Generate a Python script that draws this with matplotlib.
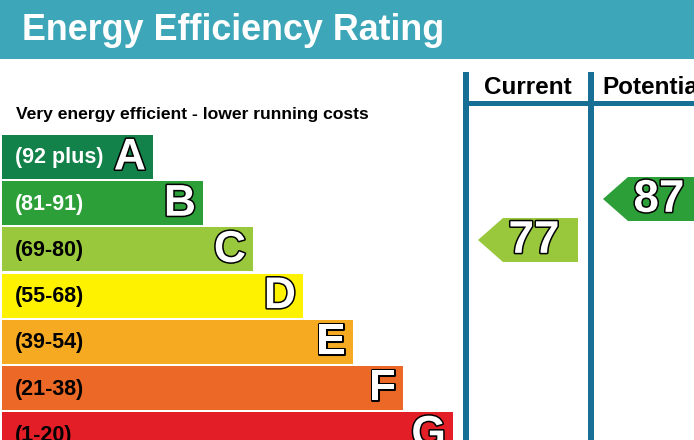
import matplotlib
matplotlib.use("Agg")
import matplotlib.pyplot as plt
from matplotlib.patches import Rectangle, Polygon
import matplotlib.patheffects as pe

# ---- data ----
title = "Energy Efficiency Rating"
subtitle = "Very energy efficient - lower running costs"
bands = ["A", "B", "C", "D", "E", "F", "G"]
ranges = ["(92 plus)", "(81-91)", "(69-80)", "(55-68)", "(39-54)", "(21-38)", "(1-20)"]
range_low = [92, 81, 69, 55, 39, 21, 1]
columns = ["Current", "Potential"]
current_score = 77
potential_score = 87

# ---- styles ----
band_colors = ["#12824A", "#2C9F38", "#99C83C", "#FFF200", "#F5AA22", "#EB6826", "#E31E26"]
label_colors = ["white", "white", "black", "black", "black", "black", "black"]
header_color = "#3DA6B8"
line_color = "#176F96"
FONT = ["Liberation Sans", "DejaVu Sans"]

W, H = 694, 440
fig = plt.figure(figsize=(W / 100, H / 100), dpi=100)
ax = fig.add_axes([0, 0, 1, 1])
ax.set_xlim(0, W)
ax.set_ylim(H, 0)
ax.axis("off")

# header
ax.add_patch(Rectangle((0, 0), W, 59, color=header_color, lw=0))
ax.text(22, 30, title, color="white", fontsize=25.8, fontweight="bold",
        family=FONT, va="center", ha="left")

ax.text(16, 115, subtitle, color="black", fontsize=12.6, fontweight="bold",
        family=FONT, va="center", ha="left")

outline = [pe.withStroke(linewidth=2.2, foreground="black")]

top0, pitch, bh = 135, 46.2, 44
for i, (b, r) in enumerate(zip(bands, ranges)):
    y = top0 + i * pitch
    right = 153 + 50 * i
    ax.add_patch(Rectangle((2, y), right - 2, bh, color=band_colors[i], lw=0))
    ax.text(15, y + bh / 2 + 1, r, color=label_colors[i], fontsize=15.5,
            fontweight="bold", family=FONT, va="center", ha="left")
    ax.text(right - 7, y + bh / 2 + 1, b, color="white", fontsize=32,
            fontweight="bold", family=FONT, va="center", ha="right",
            path_effects=outline)

# column lines
col_x = [466, 591]
for cx in col_x:
    ax.add_patch(Rectangle((cx - 3, 72), 6, H - 72, color=line_color, lw=0))
ax.add_patch(Rectangle((463, 101), W - 463, 5, color=line_color, lw=0))
ax.text(528, 87, columns[0], color="black", fontsize=17.5, fontweight="bold",
        family=FONT, va="center", ha="center")
ax.text(602, 87, columns[1], color="black", fontsize=17.5, fontweight="bold",
        family=FONT, va="center", ha="left")

# score axes (y in score units), overlay
axs = fig.add_axes([0, 0, 1, 1])
axs.set_xlim(0, W)
ppu = 4.1  # pixels per score point
axs.set_ylim(77 - (H - 240) / ppu, 77 + 240 / ppu)
axs.axis("off")
axs.patch.set_alpha(0)


def band_index(v):
    for i, lo in enumerate(range_low):
        if v >= lo:
            return i
    return len(range_low) - 1


def arrow(score, tip_x, right_x):
    hh = 22 / ppu
    pts = [(tip_x, score), (tip_x + 25, score + hh), (right_x, score + hh),
           (right_x, score - hh), (tip_x + 25, score - hh)]
    axs.add_patch(Polygon(pts, closed=True, color=band_colors[band_index(score)], lw=0))
    axs.text(tip_x + 56, score - 0.2, str(score), color="white", fontsize=33,
             fontweight="bold", family=FONT, va="center", ha="center",
             path_effects=outline)


arrow(current_score, 478, 578)
arrow(potential_score, 603, 720)

fig.savefig("out.png", dpi=100)
